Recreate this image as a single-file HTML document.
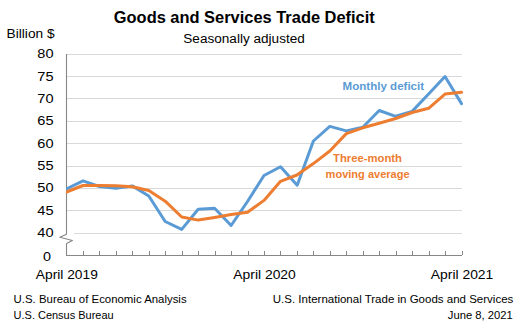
<!DOCTYPE html>
<html>
<head>
<meta charset="utf-8">
<style>
html,body{margin:0;padding:0;background:#fff;}
body{width:529px;height:330px;overflow:hidden;}
svg{display:block;}
text{font-family:"Liberation Sans", sans-serif;}
</style>
</head>
<body>
<svg width="529" height="330" viewBox="0 0 529 330">
<defs><clipPath id="pc"><rect x="66" y="0" width="463" height="330"/></clipPath></defs>
<rect x="0" y="0" width="529" height="330" fill="#fff"/>
<!-- gridlines -->
<g stroke="#d9d9d9" stroke-width="1" fill="none" shape-rendering="crispEdges">
<line x1="66" y1="54.5" x2="462" y2="54.5"/>
<line x1="66" y1="76.5" x2="462" y2="76.5"/>
<line x1="66" y1="98.5" x2="462" y2="98.5"/>
<line x1="66" y1="121.5" x2="462" y2="121.5"/>
<line x1="66" y1="143.5" x2="462" y2="143.5"/>
<line x1="66" y1="166.5" x2="462" y2="166.5"/>
<line x1="66" y1="188.5" x2="462" y2="188.5"/>
<line x1="66" y1="210.5" x2="462" y2="210.5"/>
<line x1="74" y1="233.5" x2="462" y2="233.5"/>
</g>
<!-- axes -->
<g stroke="#878787" stroke-width="1.1" fill="none">
<polyline stroke-linejoin="round" points="66.5,54 66.5,234.2 59.8,237.3 72.4,240.5 66.5,243.6 66.5,255.5 462,255.5"/>
</g>
<path stroke="#878787" stroke-width="1" fill="none" shape-rendering="crispEdges" d="M83.5,250.5V255 M99.5,250.5V255 M116.5,250.5V255 M132.5,250.5V255 M149.5,250.5V255 M165.5,250.5V255 M182.5,250.5V255 M198.5,250.5V255 M215.5,250.5V255 M231.5,250.5V255 M248.5,250.5V255 M264.5,250.5V255 M280.5,250.5V255 M297.5,250.5V255 M313.5,250.5V255 M330.5,250.5V255 M346.5,250.5V255 M363.5,250.5V255 M379.5,250.5V255 M396.5,250.5V255 M412.5,250.5V255 M429.5,250.5V255 M445.5,250.5V255 M462.5,250.5V255"/>
<!-- series -->
<polyline fill="none" stroke="#5b9bd5" stroke-width="3" stroke-linejoin="round" stroke-linecap="round" clip-path="url(#pc)"
 points="66.5,189.0 83.0,180.9 99.4,186.5 115.9,188.3 132.3,185.9 148.8,196.0 165.2,221.5 181.7,229.4 198.2,209.2 214.6,208.3 231.1,225.5 247.5,201.5 264.0,175.5 280.5,166.7 297.2,185.2 313.4,141.0 329.8,126.4 346.3,130.9 362.8,127.2 379.2,110.5 395.7,116.3 412.1,111.4 428.6,94.0 445.0,76.5 461.5,103.6"/>
<polyline fill="none" stroke="#ed7d31" stroke-width="3" stroke-linejoin="round" stroke-linecap="round" clip-path="url(#pc)"
 points="66.5,192.0 83.0,185.5 99.4,185.5 115.9,185.8 132.3,186.8 148.8,190.5 165.2,201.2 181.7,217.0 198.2,220.1 214.6,217.4 231.1,214.6 247.5,212.2 264.0,200.4 280.5,181.3 296.9,175.0 313.4,163.6 329.8,151.0 346.3,133.6 362.8,127.8 379.2,123.3 395.7,118.5 412.1,112.5 428.6,108.3 445.0,94.1 461.5,92.3"/>
<!-- title -->
<text x="113.8" y="22.8" font-size="16.3" font-weight="bold" fill="#000" textLength="261" lengthAdjust="spacingAndGlyphs">Goods and Services Trade Deficit</text>
<text x="183.3" y="42.7" font-size="12.3" fill="#000" textLength="121.5" lengthAdjust="spacingAndGlyphs">Seasonally adjusted</text>
<text x="6.6" y="37.5" font-size="12" fill="#000" textLength="48" lengthAdjust="spacingAndGlyphs">Billion $</text>
<!-- y labels -->
<g font-size="12.1" fill="#000" text-anchor="end">
<text x="53.5" y="57.7" textLength="16.2" lengthAdjust="spacingAndGlyphs">80</text>
<text x="53.5" y="80.8" textLength="16.2" lengthAdjust="spacingAndGlyphs">75</text>
<text x="53.5" y="102.9" textLength="16.2" lengthAdjust="spacingAndGlyphs">70</text>
<text x="53.5" y="125.3" textLength="16.2" lengthAdjust="spacingAndGlyphs">65</text>
<text x="53.5" y="147.6" textLength="16.2" lengthAdjust="spacingAndGlyphs">60</text>
<text x="53.5" y="170" textLength="16.2" lengthAdjust="spacingAndGlyphs">55</text>
<text x="53.5" y="192.3" textLength="16.2" lengthAdjust="spacingAndGlyphs">50</text>
<text x="53.5" y="214.6" textLength="16.2" lengthAdjust="spacingAndGlyphs">45</text>
<text x="53.5" y="237" textLength="16.2" lengthAdjust="spacingAndGlyphs">40</text>
<text x="51" y="261" textLength="8" lengthAdjust="spacingAndGlyphs">0</text>
</g>
<!-- x labels -->
<g font-size="13" fill="#000">
<text x="35.8" y="278.9" textLength="62" lengthAdjust="spacingAndGlyphs">April 2019</text>
<text x="233.3" y="278.9" textLength="62.5" lengthAdjust="spacingAndGlyphs">April 2020</text>
<text x="430.8" y="278.9" textLength="62.5" lengthAdjust="spacingAndGlyphs">April 2021</text>
</g>
<!-- series labels -->
<text x="342.6" y="89.9" font-size="11" font-weight="bold" fill="#5b9bd5" textLength="81.5" lengthAdjust="spacingAndGlyphs">Monthly deficit</text>
<text x="333" y="161.6" font-size="11" font-weight="bold" fill="#ed7d31" textLength="69" lengthAdjust="spacingAndGlyphs">Three-month</text>
<text x="325.6" y="177.8" font-size="11" font-weight="bold" fill="#ed7d31" textLength="84" lengthAdjust="spacingAndGlyphs">moving average</text>
<!-- footer -->
<g font-size="10.6" fill="#000">
<text x="13.6" y="302.9" textLength="173" lengthAdjust="spacingAndGlyphs">U.S. Bureau of Economic Analysis</text>
<text x="13.6" y="318.8" textLength="100" lengthAdjust="spacingAndGlyphs">U.S. Census Bureau</text>
<text x="272.8" y="302.9" textLength="240.5" lengthAdjust="spacingAndGlyphs">U.S. International Trade in Goods and Services</text>
<text x="447.8" y="318.7" textLength="65" lengthAdjust="spacingAndGlyphs">June 8, 2021</text>
</g>
</svg>
</body>
</html>
